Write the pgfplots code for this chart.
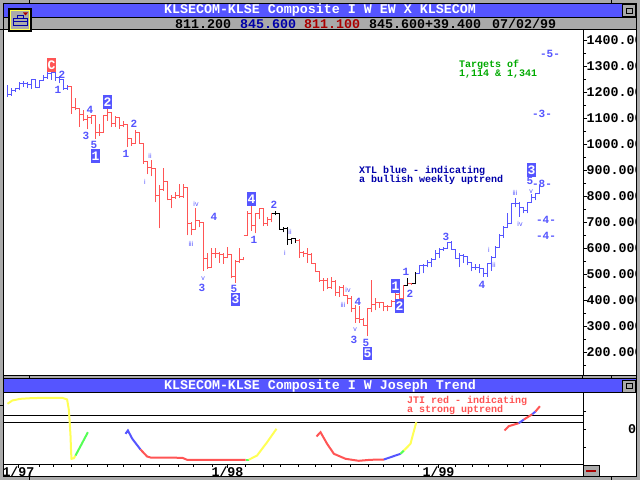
\documentclass[border=0pt]{standalone}
\usepackage{fontspec}
\setmainfont{Liberation Mono}
\newfontfamily\rom{Liberation Sans}
\usepackage{pgfplots}
\usepackage{pgfplotstable}
\pgfplotsset{compat=1.18}
\definecolor{eblue}{HTML}{5555FF}
\definecolor{ered}{HTML}{FF5555}
\definecolor{eyel}{HTML}{FFFF55}
\definecolor{egrn}{HTML}{55FF55}
\definecolor{egry}{HTML}{AAAAAA}
\definecolor{dblue}{HTML}{0000AA}
\definecolor{dgrn}{HTML}{00AA00}
\definecolor{dred}{HTML}{AA0000}
\pgfplotstableread{
k h l c
0 1227 1182 1191
1 1218 1188 1208
2 1218 1201 1214
3 1240 1208 1236
4 1246 1223 1236
5 1240 1218 1230
6 1249 1214 1249
7 1249 1218 1218
8 1246 1218 1246
9 1269 1246 1257
10 1278 1253 1272
11 1282 1249 1277
12 1278 1246 1257
13 1265 1236 1249
14 1249 1210 1214
15 1227 1210 1223
}\segA
\pgfplotstableread{
k h l c
15 1223 1223 1223
16 1223 1118 1141
17 1180 1131 1138
18 1141 1069 1115
19 1133 1090 1095
20 1112 1058 1103
21 1115 1080 1112
22 1112 1022 1045
23 1080 1032 1045
24 1115 1077 1112
25 1137 1092 1124
26 1124 1067 1080
27 1108 1067 1103
28 1103 1060 1073
29 1092 1067 1076
30 1080 990 1022
31 1009 996 1005
32 1056 1003 1045
33 1045 1003 1005
34 1005 926 936
35 936 885 913
36 941 877 909
37 908 777 804
38 846 677 827
39 908 823 858
40 858 785 788
41 804 754 796
42 819 792 804
43 850 796 800
44 850 796 835
45 835 650 696
46 700 650 673
47 754 673 708
48 708 681 700
49 685 515 562
50 581 523 527
51 600 527 581
52 600 565 581
53 585 546 577
54 581 542 565
55 604 562 577
56 577 485 492
57 554 469 550
58 600 546 558
59 569 554 569
}\segB
\pgfplotstableread{
k h l c
59 650 650 650
60 746 650 735
61 769 669 688
62 738 658 735
63 754 712 754
64 754 685 696
65 723 688 712
66 738 700 735
}\segC
\pgfplotstableread{
k h l c
66 735 735 735
67 746 727 735
68 735 673 673
69 681 662 677
70 681 615 635
71 642 619 638
72 638 623 631
}\segD
\pgfplotstableread{
k h l c
72 631 631 631
73 635 565 585
74 592 569 581
75 600 546 577
76 581 542 542
77 542 508 512
78 508 473 477
79 488 435 477
80 485 446 450
81 492 446 473
82 477 419 431
83 454 415 450
84 458 419 419
85 423 385 408
86 419 354 369
87 381 315 331
88 377 315 327
89 331 304 304
90 373 262 369
91 477 354 385
92 408 362 392
93 396 373 392
94 388 358 377
95 381 358 377
96 400 377 396
97 431 396 423
98 427 408 408
99 458 408 458
}\segE
\pgfplotstableread{
k h l c
99 458 458 458
100 488 458 465
}\segF
\pgfplotstableread{
k h l c
100 465 465 465
101 469 458 465
}\segG
\pgfplotstableread{
k h l c
101 465 465 465
102 511 462 504
}\segH
\pgfplotstableread{
k h l c
102 504 504 504
103 538 504 535
104 542 504 535
105 554 527 546
106 562 527 558
107 596 558 581
108 600 562 596
109 604 592 600
110 623 600 623
111 627 596 596
112 596 562 562
113 581 527 573
114 577 546 569
115 573 535 546
116 546 512 527
117 542 519 527
118 542 504 523
119 523 492 504
120 546 492 542
121 573 515 565
122 608 565 604
123 654 604 650
124 688 642 681
125 735 677 696
126 773 696 773
127 796 758 773
128 777 723 758
129 758 735 746
130 777 735 777
131 811 777 796
132 811 785 811
133 845.6 811.1 845.6
}\segI
\newcommand{\seg}[2]{%
  \addplot[color=#1,line width=1pt,const plot,mark=none] table[x=k,y=c]{#2};
  \addplot[color=#1,line width=1pt,mark=none,quiver={u=0,v=\thisrow{h}-\thisrow{l}}] table[x=k,y=l]{#2};}
\newcommand{\mf}[1]{\bfseries\fontsize{#1}{#1}\selectfont}
\newcommand{\W}[3]{\node[text=eblue,inner sep=0pt,font=\mf{11}] at ({(#1)*1pt},{(480-(#2))*1pt}) {#3};}
\newcommand{\R}[3]{\node[text=eblue,inner sep=0pt,font=\rom\fontsize{7}{7}\selectfont] at ({(#1)*1pt},{(480-(#2))*1pt}) {#3};}
\newcommand{\B}[6][eblue]{\fill[#1] ({(#2)*1pt},{(480-(#3))*1pt}) rectangle ({(#4)*1pt},{(480-(#5))*1pt});
  \node[text=white,inner sep=0pt,font=\mf{13}] at ({(#2+#4)/2*1pt},{(480-(#3+#5)/2)*1pt}) {#6};}
\newcommand{\rr}[5]{\fill[#1] ({(#2)*1pt},{(480-(#3))*1pt}) rectangle ({(#4)*1pt},{(480-(#5))*1pt});}
\newcommand{\txt}[6]{\node[text=#1,inner sep=0pt,anchor=#2,font=\mf{#3}] at ({(#4)*1pt},{(480-(#5))*1pt}) {#6};}
\newcommand{\btn}[2]{%
  \rr{black}{#1}{#2}{#1+14}{#2+13}
  \rr{egry}{#1+1}{#2+1}{#1+13}{#2+12}
  \draw[black,line width=1pt] ({(#1+4)*1pt},{(480-(#2+4))*1pt}) rectangle ({(#1+10)*1pt},{(480-(#2+9))*1pt});}
\begin{document}
\begin{tikzpicture}[x=1pt,y=1pt]
\useasboundingbox (0pt,0pt) rectangle (640pt,480pt);
\clip (0pt,0pt) rectangle (640pt,480pt);
\fill[white] (0pt,0pt) rectangle (640pt,480pt);
% ---------- main panel
\begin{axis}[name=main,anchor=south west,at={(3.5pt,104.5pt)},scale only axis,width=579.5pt,height=345pt,
  xmin=-1,xmax=143.875,ymin=111.5,ymax=1438.5,
  axis y line*=right,axis x line=none,clip=false,
  axis line style={black,line width=1pt},
  ytick={200,300,...,1400},minor ytick={150,250,...,1350},
  tick align=outside,major tick length=4pt,minor tick length=3pt,
  every tick/.style={black,line width=1pt},
  y tick label style={font=\mf{13.33},anchor=west,inner sep=0pt,xshift=-0.5pt,
    /pgf/number format/assume math mode=true,/pgf/number format/fixed,
    /pgf/number format/fixed zerofill,/pgf/number format/precision=3,/pgf/number format/1000 sep={}},
  yticklabel pos=right]
\seg{eblue}{\segA}
\seg{ered}{\segB}
\seg{ered}{\segC}
\seg{black}{\segD}
\seg{ered}{\segE}
\seg{black}{\segF}
\seg{ered}{\segG}
\seg{black}{\segH}
\seg{eblue}{\segI}
\end{axis}
% ---------- lower panel
\begin{axis}[name=low,anchor=south west,at={(3.5pt,15.5pt)},scale only axis,width=579.5pt,height=71pt,
  xmin=-1,xmax=143.875,ymin=-35,ymax=36,
  axis y line*=right,axis x line*=bottom,
  axis line style={black,line width=1pt},
  xtick={2.75,55,107.75},xticklabels={1/97,1/98,1/99},
  minor xtick={8,11.5,16,20,25,29,33.25,38,42.75,46.5,51.25,59.5,64,68.25,72.75,77,81,85.75,90.25,94,99,102.75,112,116.25,120.25,125,129,133.25},
  ytick={-18,0,18},yticklabels={,0,},
  tick align=outside,major tick length=3pt,minor tick length=2pt,
  every tick/.style={black,line width=1pt},
  x tick label style={font=\mf{13.33},inner sep=0pt,yshift=0.5pt},
  y tick label style={font=\mf{13.33},inner sep=0pt,xshift=42pt},
  yticklabel pos=right]
\addplot[black,line width=1pt] coordinates {(-1,14)(143.875,14)};
\addplot[black,line width=1pt] coordinates {(-1,7)(143.875,7)};
\addplot[eyel,line width=2pt] coordinates {(0,25.7)(1.2,29)(3.25,30.7)(5.75,31.3)(9.1,31.7)(13.7,31.7)(14.9,30)(15.3,20.7)(15.5,10.7)(15.75,-6)(15.9,-22.7)(16,-29.3)(16.6,-28.7)(17,-26)};
\addplot[egrn,line width=2pt] coordinates {(17,-26)(18.25,-16.7)(20.1,-2.7)};
\addplot[eblue,line width=2pt] coordinates {(29.5,-4.3)(30.1,-1)(31.2,-9.3)(33.25,-20)};
\addplot[ered,line width=2pt] coordinates {(33.25,-20)(34.9,-27)(35.75,-28)(43.7,-28.3)(44.9,-30.3)(59.5,-30.3)};
\addplot[egrn,line width=2pt] coordinates {(59.5,-30.3)(60.3,-30.3)};
\addplot[eyel,line width=2pt] coordinates {(60.3,-30.3)(62.4,-26)(64.9,-12.7)(67.25,0.7)};
\addplot[ered,line width=2pt] coordinates {(77.25,-7)(78.25,-2.7)(79.9,-14.3)(81.6,-24.3)(84.5,-29.3)(87.8,-31.3)(90.75,-30.3)(94.1,-30)};
\addplot[eblue,line width=2pt] coordinates {(94.1,-30)(98.25,-24.3)};
\addplot[egrn,line width=2pt] coordinates {(98.25,-24.3)(99.1,-21)};
\addplot[eyel,line width=2pt] coordinates {(99.1,-21)(100.75,-14.3)(101.3,-6)(102.2,7.3)};
\addplot[ered,line width=2pt] coordinates {(124.25,-1)(125.3,3.3)(127.8,6.3)};
\addplot[eblue,line width=2pt] coordinates {(127.8,6.3)(129.1,10)};
\addplot[ered,line width=2pt] coordinates {(129.1,10)(131.2,15.3)};
\addplot[eblue,line width=2pt] coordinates {(131.2,15.3)(132,18)};
\addplot[ered,line width=2pt] coordinates {(132,18)(133.1,23.3)};
\end{axis}
% ---------- window frame
\rr{egry}{0}{0}{640}{4}
\rr{egry}{0}{0}{3}{480}
\rr{egry}{637}{0}{640}{480}
\rr{egry}{0}{477}{640}{480}
\rr{black}{3}{3}{4}{477}
\rr{black}{636}{3}{637}{477}
\rr{black}{3}{3}{637}{4}
\rr{black}{3}{476}{637}{477}
\rr{eblue}{4}{4}{636}{17}
\rr{black}{4}{17}{636}{18}
\rr{egry}{4}{18}{636}{29}
\rr{black}{0}{29}{636}{30}
\rr{black}{4}{375}{636}{376}
\rr{egry}{4}{376}{636}{378}
\rr{black}{4}{378}{636}{379}
\rr{eblue}{4}{379}{636}{392}
\rr{black}{4}{392}{636}{393}
\rr{black}{29}{0}{30}{3}
\rr{black}{611}{0}{612}{3}
\rr{black}{29}{477}{30}{480}
\rr{black}{611}{477}{612}{480}
\rr{black}{0}{405}{3}{406}
\rr{black}{29}{376}{30}{378}
\rr{black}{582}{376}{583}{378}
\rr{black}{611}{376}{612}{378}
% toolbox icon
\rr{black}{8}{8}{32}{32}
\rr{eyel}{10}{10}{30}{30}
\rr{egry}{11}{11}{29}{29}
\draw[dblue,line width=1pt] (13pt,{(480-19)*1pt}) rectangle (27pt,{(480-26)*1pt});
\draw[dblue,line width=1pt] (17pt,{(480-19)*1pt}) rectangle (23pt,{(480-15.5)*1pt});
\draw[dblue,line width=1pt] (13pt,{(480-22)*1pt}) -- (27pt,{(480-22)*1pt});
\fill[dred] (23pt,{(480-12.5)*1pt}) -- (28pt,{(480-12.5)*1pt}) -- (25.5pt,{(480-15.5)*1pt}) -- cycle;
\btn{622}{4.5}
\btn{622}{379.5}
% minus button
\rr{black}{583}{465}{600}{476}
\rr{egry}{583.5}{465.5}{599}{475.5}
\rr{dred}{586}{470}{596}{471.5}
% titles
\txt{white}{center}{13.33}{320}{10.5}{KLSECOM-KLSE Composite I W EW X KLSECOM}
\txt{white}{center}{13.33}{320}{386}{KLSECOM-KLSE Composite I W Joseph Trend}
\txt{black}{west}{13.33}{175}{24}{811.200}
\txt{dblue}{west}{13.33}{240}{24}{845.600}
\txt{dred}{west}{13.33}{304}{24}{811.100}
\txt{black}{west}{13.33}{369}{24}{845.600+39.400}
\txt{black}{west}{13.33}{492}{24}{07/02/99}
% annotations
\txt{dgrn}{west}{10}{459}{65}{Targets of}
\txt{dgrn}{west}{10}{459}{74}{1,114 \& 1,341}
\txt{dblue}{west}{10}{359}{171}{XTL blue - indicating}
\txt{dblue}{west}{10}{359}{180}{a bullish weekly uptrend}
\txt{ered}{west}{10}{407}{401}{JTI red - indicating}
\txt{ered}{west}{10}{407}{410}{a strong uptrend}
% wave labels
\B[ered]{47}{58}{56}{72}{C}
\B{91}{149}{100}{163}{1}
\B{103}{95}{112}{109}{2}
\B{231}{293}{240}{306}{3}
\B{247}{192}{256}{206}{4}
\B{363}{347}{372}{360}{5}
\B{391}{279}{400}{293}{1}
\B{395}{299}{404}{313}{2}
\B{527}{163}{536}{177}{3}
\W{62}{75}{2}\W{58}{90}{1}\W{90}{110}{4}\W{86}{136}{3}\W{94}{145}{5}
\W{134}{124}{2}\W{126}{154}{1}\W{214}{217}{4}\W{202}{288}{3}\W{234}{289}{5}
\W{254}{240}{1}\W{274}{205}{2}\W{358}{302}{4}\W{354}{340}{3}\W{366}{343}{5}
\W{406}{272}{1}\W{410}{294}{2}\W{446}{237}{3}\W{482}{285}{4}\W{530}{181}{5}
\W{542}{184}{-8-}\W{546}{220}{-4-}\W{546}{236}{-4-}\W{550}{54}{-5-}\W{542}{114}{-3-}
\R{150}{156}{ii}\R{145}{182}{i}\R{196}{204}{iv}\R{191}{244}{iii}\R{203}{279}{v}
\R{290}{232}{ii}\R{285}{253}{i}\R{348}{290}{iv}\R{343}{305}{iii}\R{355}{330}{v}
\R{489}{250}{i}\R{494}{265}{ii}\R{515}{193}{iii}\R{520}{224}{iv}\R{531}{192}{v}
\end{tikzpicture}
\end{document}
